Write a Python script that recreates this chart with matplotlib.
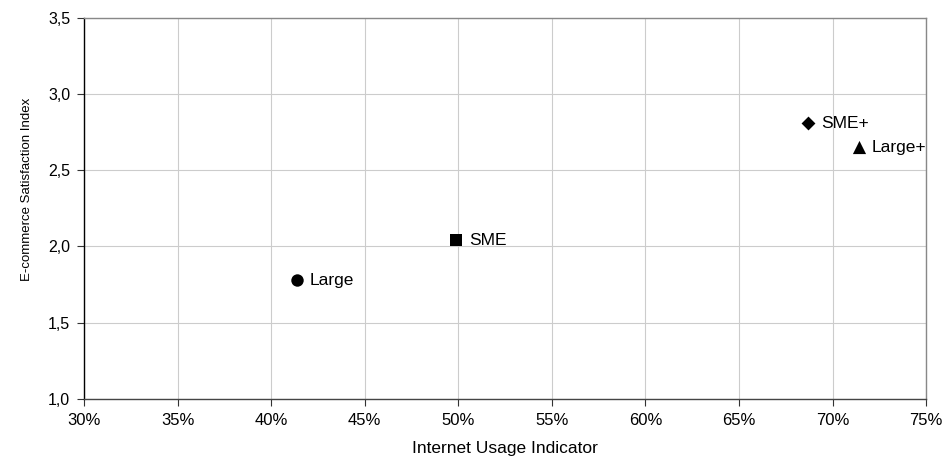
import matplotlib.pyplot as plt
from matplotlib.ticker import FuncFormatter

plt.rcParams['font.family'] = ['Liberation Sans', 'DejaVu Sans']

# data
names = ['Large', 'SME', 'SME+', 'Large+']
usage = [41.4, 49.9, 68.7, 71.4]
satisfaction = [1.78, 2.04, 2.81, 2.65]
markers = ['o', 's', 'D', '^']
sizes = [80, 80, 50, 90]

fig = plt.figure(figsize=(9.45, 4.59), dpi=100)
ax = fig.add_axes([0.089, 0.131, 0.891, 0.830])

for i in range(len(names)):
    ax.scatter(usage[i], satisfaction[i], marker=markers[i], s=sizes[i],
               color='black', zorder=3, linewidths=0)
    ax.annotate(names[i], (usage[i], satisfaction[i]), xytext=(9, 0),
                textcoords='offset points', va='center', ha='left', fontsize=12.5)

ax.set_xlim(30, 75)
ax.set_ylim(1.0, 3.5)
ax.set_xticks(range(30, 76, 5))
ax.set_yticks([1.0, 1.5, 2.0, 2.5, 3.0, 3.5])
ax.xaxis.set_major_formatter(FuncFormatter(lambda v, p: '%d%%' % v))
ax.yaxis.set_major_formatter(FuncFormatter(lambda v, p: ('%.1f' % v).replace('.', ',')))
ax.tick_params(length=5, width=0.8, color='#333333')
ax.tick_params(axis='x', labelsize=12, pad=5)
ax.tick_params(axis='y', labelsize=11.5, pad=5)
ax.grid(True, color='#cccccc', linewidth=0.8)
ax.set_axisbelow(True)

ax.spines['left'].set_color('black')
ax.spines['bottom'].set_color('#444444')
ax.spines['top'].set_color('#888888')
ax.spines['right'].set_color('#888888')
for s in ax.spines.values():
    s.set_linewidth(1.0)

ax.set_xlabel('Internet Usage Indicator', fontsize=12.5, va='center')
ax.xaxis.set_label_coords(0.5, -0.129)
ax.set_ylabel('E-commerce Satisfaction Index', fontsize=9.5, va='center')
ax.yaxis.set_label_coords(-0.068, 0.549)

fig.savefig('out.png', dpi=100)
